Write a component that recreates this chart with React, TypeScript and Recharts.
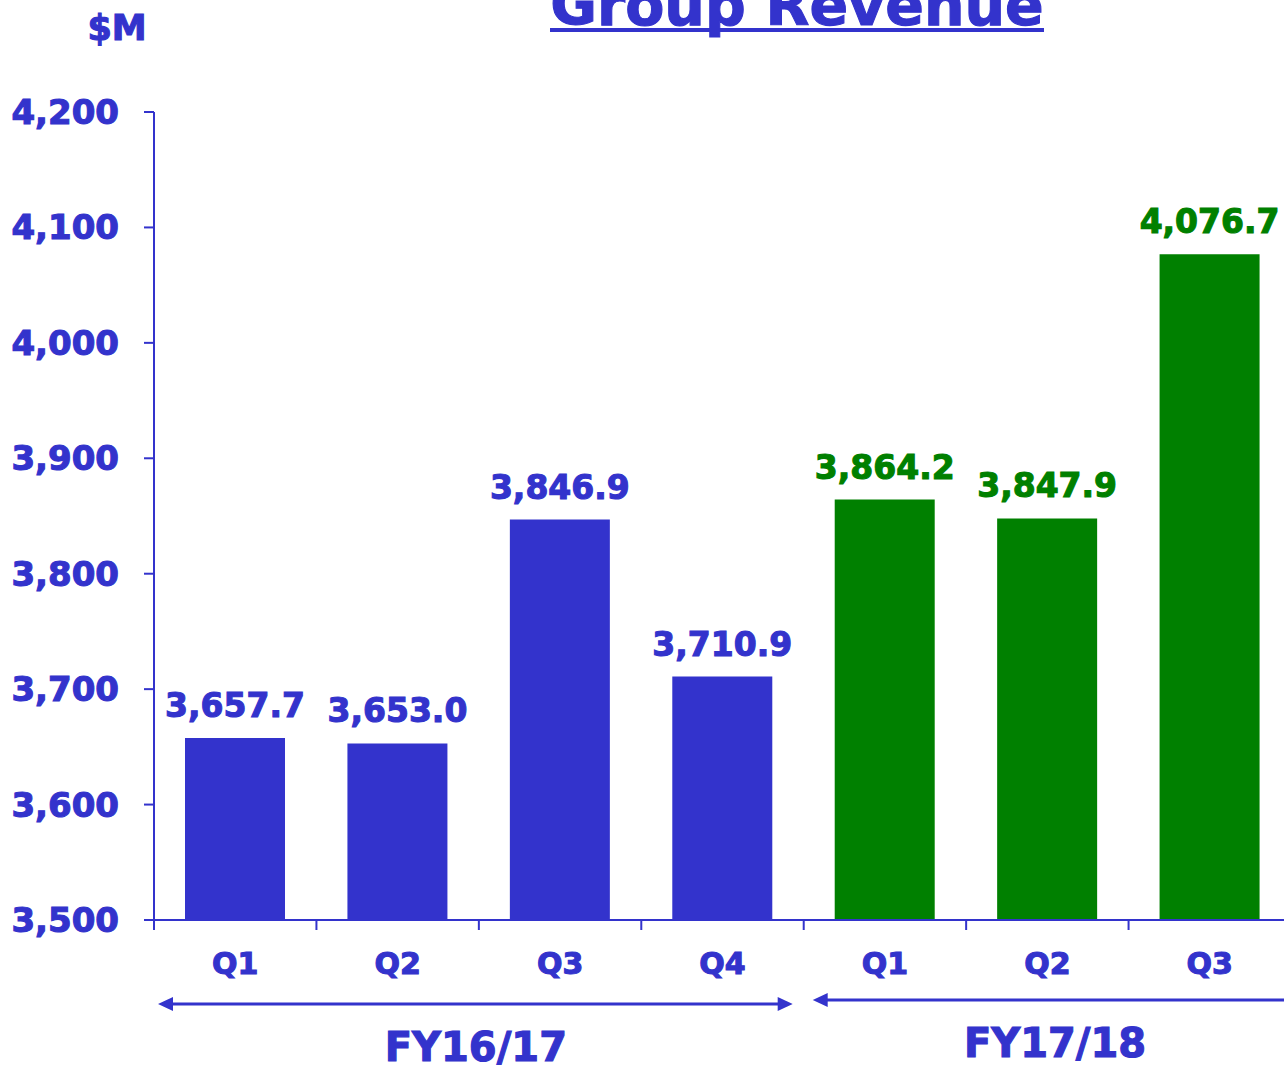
import React from "react";
import { BarChart, Bar, XAxis, YAxis, Cell, LabelList } from "recharts";

const quarters = ["Q1", "Q2", "Q3", "Q4", "Q1", "Q2", "Q3"];
const fiscalYears = ["FY16/17", "FY16/17", "FY16/17", "FY16/17", "FY17/18", "FY17/18", "FY17/18"];
const revenue = [3657.7, 3653.0, 3846.9, 3710.9, 3864.2, 3847.9, 4076.7];
const yTicks = [3500, 3600, 3700, 3800, 3900, 4000, 4100, 4200];
const groups = [
    { label: "FY16/17", start: 0, count: 4 },
    { label: "FY17/18", start: 4, count: 3 },
];

const BLUE = "#3333CC";
const GREEN = "#008000";
const FONT = "'DejaVu Sans', Verdana, sans-serif";
const HEAVY = 1.1; // stroke to mimic the heavier Verdana Bold

const W = 1291;
const H = 1067;
const PLOT_LEFT = 154;
const PLOT_TOP = 112;
const PLOT_BOTTOM = 920;
const BAND = (W - PLOT_LEFT) / quarters.length;

const data = quarters.map((q, i) => ({
    key: `${fiscalYears[i]} ${q}`,
    quarter: q,
    fy: fiscalYears[i],
    value: revenue[i],
}));

const colorOf = (i: number) => (data[i].fy === "FY16/17" ? BLUE : GREEN);

const fmt = (v: number, d: number) =>
    v.toLocaleString("en-US", { minimumFractionDigits: d, maximumFractionDigits: d });

function QuarterTick(props: any) {
    const { x, payload, index } = props;
    const left = x - BAND / 2;
    return (
        <g>
            <line x1={left} x2={left} y1={PLOT_BOTTOM} y2={PLOT_BOTTOM + 10} stroke={BLUE} strokeWidth={2} />
            <text
                x={x}
                y={963}
                textAnchor="middle"
                dominantBaseline="central"
                fill={BLUE}
                stroke={BLUE}
                strokeWidth={HEAVY}
                fontSize={30}
                fontWeight="bold"
                fontFamily={FONT}
            >
                {data[index]?.quarter ?? payload.value}
            </text>
        </g>
    );
}

function YTick(props: any) {
    const { x, y, payload } = props;
    return (
        <text
            x={x}
            y={y}
            textAnchor="end"
            dominantBaseline="central"
            fill={BLUE}
            stroke={BLUE}
            strokeWidth={HEAVY}
            fontSize={34}
            fontWeight="bold"
            fontFamily={FONT}
        >
            {fmt(payload.value, 0)}
        </text>
    );
}

function ValueLabel(props: any) {
    const { x, y, width, value, index } = props;
    const c = colorOf(index);
    return (
        <text
            x={x + width / 2}
            y={y - 21}
            textAnchor="middle"
            fill={c}
            stroke={c}
            strokeWidth={HEAVY}
            fontSize={33}
            fontWeight="bold"
            fontFamily={FONT}
        >
            {fmt(value, 1)}
        </text>
    );
}

function Arrow({ x1, x2, y }: { x1: number; x2: number; y: number }) {
    const hl = 15, hh = 7;
    return (
        <g fill={BLUE} stroke="none">
            <line x1={x1 + hl - 2} x2={x2 - hl + 2} y1={y} y2={y} stroke={BLUE} strokeWidth={3} />
            <polygon points={`${x1},${y} ${x1 + hl},${y - hh} ${x1 + hl},${y + hh}`} />
            <polygon points={`${x2},${y} ${x2 - hl},${y - hh} ${x2 - hl},${y + hh}`} />
        </g>
    );
}

export default function App() {
    return (
        <div style={{ position: "absolute", left: 0, top: 0, width: 1284, height: H, overflow: "hidden", background: "#fff" }}>
            <BarChart
                width={W}
                height={H}
                data={data}
                margin={{ top: PLOT_TOP, right: 0, left: 0, bottom: H - PLOT_BOTTOM - 60 }}
            >
                <XAxis
                    dataKey="key"
                    height={60}
                    tickLine={false}
                    tickSize={0}
                    tickMargin={0}
                    axisLine={{ stroke: BLUE, strokeWidth: 2 }}
                    tick={<QuarterTick />}
                    interval={0}
                />
                <YAxis
                    width={PLOT_LEFT}
                    domain={[3500, 4200]}
                    ticks={yTicks}
                    allowDataOverflow
                    tickSize={10}
                    tickMargin={25}
                    tickLine={{ stroke: BLUE, strokeWidth: 2 }}
                    axisLine={{ stroke: BLUE, strokeWidth: 2 }}
                    tick={<YTick />}
                />
                <Bar dataKey="value" barSize={100} isAnimationActive={false}>
                    {data.map((d, i) => (
                        <Cell key={d.key} fill={colorOf(i)} />
                    ))}
                    <LabelList dataKey="value" content={<ValueLabel />} />
                </Bar>
            </BarChart>
            <svg
                width={1284}
                height={H}
                style={{ position: "absolute", left: 0, top: 0, pointerEvents: "none" }}
            >
                <text x={797} y={25} textAnchor="middle" fill={BLUE} stroke={BLUE} strokeWidth={HEAVY} fontSize={57} fontWeight="bold" fontFamily={FONT}>
                    Group Revenue
                </text>
                <rect x={550} y={28} width={494} height={4} fill={BLUE} />
                <text x={117} y={40} textAnchor="middle" fill={BLUE} stroke={BLUE} strokeWidth={HEAVY} fontSize={35} fontWeight="bold" fontFamily={FONT}>
                    $M
                </text>
                {groups.map((g, gi) => {
                    const left = PLOT_LEFT + g.start * BAND;
                    const right = left + g.count * BAND;
                    const y = gi === 0 ? 1004 : 1000;
                    const x1 = left + (gi === 0 ? 4 : 9);
                    const x2 = gi === 0 ? right - 11 : right + 20;
                    const cx = gi === 0 ? (left + right) / 2 - 3 : 1055;
                    return (
                        <g key={g.label}>
                            <Arrow x1={x1} x2={x2} y={y} />
                            <text
                                x={cx}
                                y={y + 43}
                                textAnchor="middle"
                                dominantBaseline="central"
                                fill={BLUE}
                                stroke={BLUE}
                                strokeWidth={HEAVY}
                                fontSize={40}
                                fontWeight="bold"
                                fontFamily={FONT}
                            >
                                {g.label}
                            </text>
                        </g>
                    );
                })}
            </svg>
        </div>
    );
}
